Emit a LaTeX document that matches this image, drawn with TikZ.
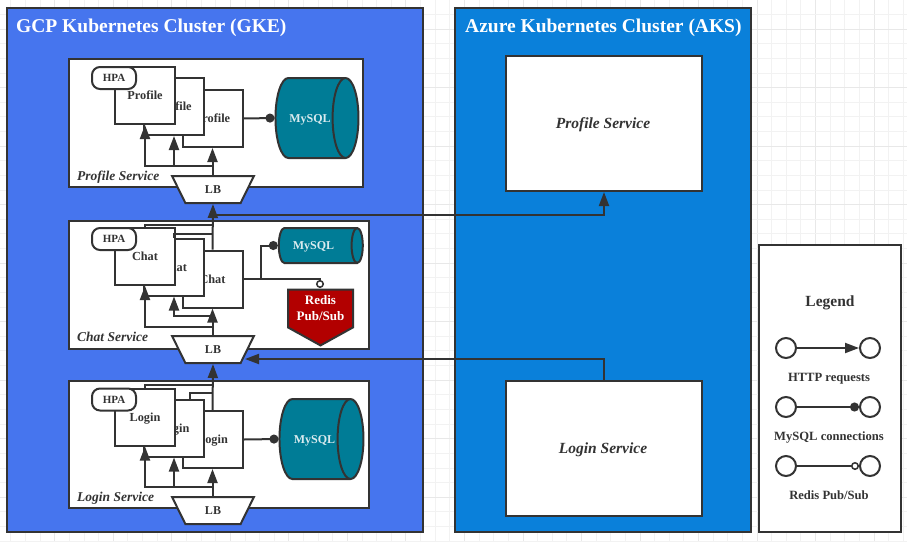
\documentclass[tikz,border=0pt]{standalone}
\usepackage{fontspec}
\usepackage{xcolor}
\usetikzlibrary{shapes.geometric,shapes.symbols,arrows.meta}
\setmainfont{Liberation Serif}

\definecolor{gkeblue}{HTML}{4675EE}
\definecolor{aksblue}{HTML}{0A80DA}
\definecolor{dbteal}{HTML}{007C96}
\definecolor{redisred}{HTML}{B20000}
\definecolor{inkgray}{HTML}{333333}

\tikzset{
    cluster/.style={draw=inkgray, line width=2pt, anchor=north west, inner sep=0pt},
    clustertitle/.style={anchor=west, text=white, font=\bfseries\fontsize{19.5}{22}\selectfont, inner sep=0pt,
        text height=13pt, text depth=4pt},
    servicebox/.style={draw=inkgray, fill=white, line width=2pt, anchor=north west, inner sep=0pt},
    servicename/.style={anchor=west, text=inkgray, font=\bfseries\itshape\fontsize{13.5}{16}\selectfont, inner sep=0pt,
        text height=10pt, text depth=3pt},
    pod/.style={draw=inkgray, fill=white, line width=2pt, minimum width=60pt, minimum height=57pt, inner sep=0pt,
        text=inkgray, font=\bfseries\fontsize{12.3}{14}\selectfont, text height=11pt, text depth=3pt},
    hpa/.style={draw=inkgray, fill=white, line width=2pt, rounded corners=8pt, minimum width=44pt, minimum height=22pt,
        inner sep=0pt, text=inkgray, font=\bfseries\fontsize{11}{13}\selectfont},
    lb/.style={draw=inkgray, fill=white, line width=2pt, trapezium, shape border rotate=180, trapezium stretches=true,
        trapezium left angle=64, trapezium right angle=64, minimum width=82pt, minimum height=27pt, inner sep=0pt,
        text=inkgray, font=\bfseries\fontsize{12}{14}\selectfont},
    mysql/.style={draw=inkgray, fill=dbteal, line width=2pt, cylinder, shape border rotate=0, inner sep=0pt,
        text=white!85!dbteal, font=\bfseries\fontsize{12}{14}\selectfont, text height=11pt, text depth=3pt},
    redis/.style={draw=inkgray, fill=redisred, line width=2pt, signal, signal to=south, signal pointer angle=122,
        minimum width=65pt, minimum height=51pt, inner sep=0pt, align=center, text=white,
        font=\bfseries\fontsize{13}{16}\selectfont},
    legendtext/.style={text=inkgray, inner sep=0pt, font=\bfseries\fontsize{12.6}{14}\selectfont,
        text height=8pt, text depth=3pt},
    endpoint/.style={circle, draw=inkgray, fill=white, line width=2pt, minimum size=20pt, inner sep=0pt},
    wire/.style={draw=inkgray, line width=2pt},
    http/.style={wire, -{Triangle[length=14pt, width=10pt]}},
    sqldot/.style={wire, -{Circle[length=9pt, fill=inkgray]}},
    redisdot/.style={wire, -{Circle[length=8pt, fill=white, line width=1.5pt]}},
    gridline/.style={draw=black!5, line width=0.7pt},
    gridmajor/.style={draw=black!9, line width=0.7pt}
}

\begin{document}
\begin{tikzpicture}[x=1pt, y=-1pt]
    \useasboundingbox (0, 0) rectangle (907, 542);

    % background grid
    \foreach \k in {0,...,61} {
        \pgfmathtruncatemacro{\m}{mod(\k,4)}
        \ifnum\m=3
            \draw[gridmajor] ({10.8+14.63*\k}, 0) -- ({10.8+14.63*\k}, 542);
        \else
            \draw[gridline] ({10.8+14.63*\k}, 0) -- ({10.8+14.63*\k}, 542);
        \fi
    }
    \foreach \k in {1,...,37} {
        \pgfmathtruncatemacro{\m}{mod(\k,4)}
        \ifnum\m=2
            \draw[gridmajor] (0, {14.63*\k-0.3}) -- (907, {14.63*\k-0.3});
        \else
            \draw[gridline] (0, {14.63*\k-0.3}) -- (907, {14.63*\k-0.3});
        \fi
    }

    % clusters
    \node[cluster, fill=gkeblue, minimum width=416pt, minimum height=524pt] (gke) at (6, 7) {};
    \node[clustertitle] (gketitle) at (16, 27.5) {GCP Kubernetes Cluster (GKE)};
    \node[cluster, fill=aksblue, minimum width=296pt, minimum height=524pt] (aks) at (454, 7) {};
    \node[clustertitle] (akstitle) at (465, 27.5) {Azure Kubernetes Cluster (AKS)};

    % service boxes in GKE
    \node[servicebox, minimum width=294pt, minimum height=128pt] (profilebox) at (68, 58) {};
    \node[servicebox, minimum width=300pt, minimum height=128pt] (chatbox) at (68, 219.5) {};
    \node[servicebox, minimum width=300pt, minimum height=127pt] (loginbox) at (68, 380) {};
    \node[servicename] (profilename) at (77, 176.5) {Profile Service};
    \node[servicename] (chatname) at (77, 337.5) {Chat Service};
    \node[servicename] (loginname) at (77, 498) {Login Service};

    % service boxes in AKS
    \node[servicebox, minimum width=196pt, minimum height=135pt] (aksprofile) at (505, 55) {};
    \node[servicebox, minimum width=196pt, minimum height=135pt] (akslogin) at (505, 380) {};
    \node[servicename, anchor=center, font=\bfseries\itshape\fontsize{15.5}{17}\selectfont] (aksprofilename) at (603, 124.5) {Profile Service};
    \node[servicename, anchor=center, font=\bfseries\itshape\fontsize{15.5}{17}\selectfont] (aksloginname) at (603, 449.5) {Login Service};

    % profile pods
    \node[pod] (profilec) at (212.5, 118.5) {Profile};
    \node[pod] (profileb) at (174, 106.5) {Profile};
    \node[pod] (profilea) at (145, 95.5) {Profile};
    \node[hpa] (profilehpa) at (114, 78) {HPA};
    \node[lb] (profilelb) at (213, 189.5) {LB};
    \node[mysql, minimum height=83pt, minimum width=80pt, shape aspect=1.85] (profiledb) at (310, 118) {MySQL};

    % chat pods
    \node[pod] (chatc) at (212.5, 279) {Chat};
    \node[pod] (chatb) at (174, 267) {Chat};
    \node[pod] (chata) at (145, 256.5) {Chat};
    \node[hpa] (chathpa) at (114, 239) {HPA};
    \node[lb] (chatlb) at (213, 349.5) {LB};
    \node[mysql, minimum height=84pt, minimum width=35pt, shape aspect=0.8] (chatdb) at (317.5, 245.5) {MySQL\kern8pt};
    \node[redis] (redisbox) at (320.5, 308.5) {Redis\\Pub/Sub};
    \coordinate (redisin) at (320, 288);

    % login pods
    \node[pod] (loginc) at (212.5, 439.5) {Login};
    \node[pod] (loginb) at (174, 428) {Login};
    \node[pod] (logina) at (145, 417) {Login};
    \node[hpa] (loginhpa) at (114, 399.5) {HPA};
    \node[lb] (loginlb) at (213, 510.5) {LB};
    \node[mysql, minimum height=84pt, minimum width=80pt, shape aspect=1.85] (logindb) at (314.5, 439) {MySQL};

    % profile traffic
    \draw[http] (profilelb.north -| profilec) -- (profilec.south);
    \draw[http] (213, 166) -| (profileb.south);
    \draw[http] (213, 166) -| (profilea.south);
    \draw[sqldot] (profilec.east) -- (profiledb.west);

    % chat traffic
    \draw[http] (chatlb.north -| chatc) -- (chatc.south);
    \draw[http] (213, 316) -| (chatb.south);
    \draw[http] (213, 327) -| (chata.south);
    \draw[sqldot] (260.5, 279) |- (chatdb.west);
    \draw[redisdot] (chatc.east) -| (redisin);

    % login traffic
    \draw[http] (loginlb.north -| loginc) -- (loginc.south);
    \draw[http] (213, 487) -| (loginb.south);
    \draw[http] (213, 487) -| (logina.south);
    \draw[sqldot] (loginc.east) -- (logindb.west);

    % calls up to the next load balancer
    \draw[http] (chatc.north) -- (profilelb.south);
    \draw[wire] (chata.north) |- (213, 225);
    \draw[wire] (chatb.north) |- (213, 234);
    \draw[http] (loginc.north) -- (chatlb.south);
    \draw[wire] (logina.north) |- (213, 385);
    \draw[wire] (190, 400) |- (213, 393);
    \coordinate (profileout) at (213, 214.5);
    \draw[http] (profileout) -| (aksprofile.south);
    \draw[http] (akslogin.north) |- (245, 359);

    % legend
    \node[servicebox, minimum width=142pt, minimum height=287pt] (legendbox) at (758, 244) {};
    \node[text=inkgray, inner sep=0pt, font=\bfseries\fontsize{15.5}{17}\selectfont] (legendtitle) at (830, 302.5) {Legend};
    \node[endpoint] (httpa) at (786, 348) {};
    \node[endpoint] (httpb) at (870, 348) {};
    \node[legendtext] (httptext) at (829, 378.5) {HTTP requests};
    \node[endpoint] (sqla) at (786, 407) {};
    \node[endpoint] (sqlb) at (870, 407) {};
    \node[legendtext] (sqltext) at (829, 437.5) {MySQL connections};
    \node[endpoint] (redisa) at (786, 466) {};
    \node[endpoint] (redisb) at (870, 466) {};
    \node[legendtext] (redistext) at (829, 496.5) {Redis Pub/Sub};
    \draw[http] (httpa) -- (httpb);
    \draw[sqldot] (sqla) -- (sqlb);
    \draw[redisdot] (redisa) -- (redisb);
\end{tikzpicture}
\end{document}
